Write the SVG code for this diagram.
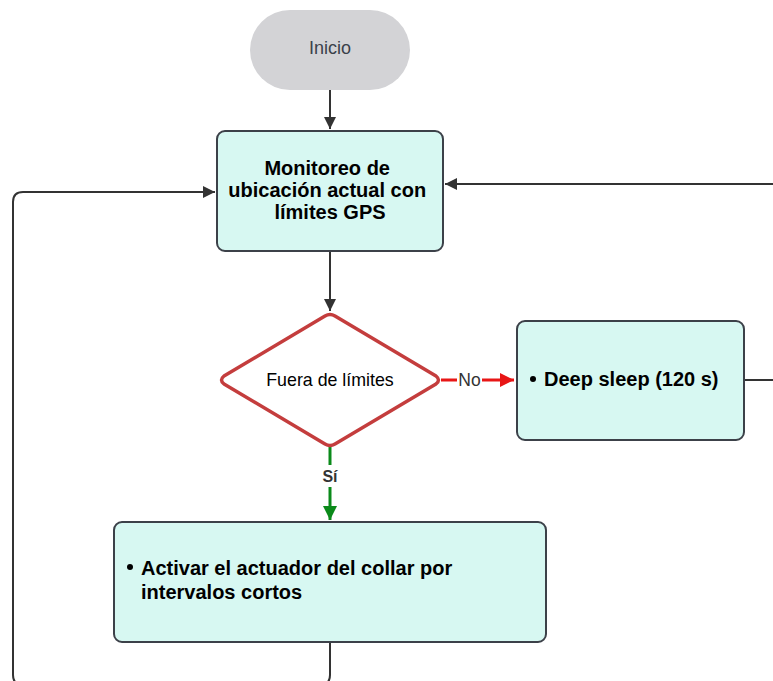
<svg xmlns="http://www.w3.org/2000/svg" width="773" height="681" viewBox="0 0 773 681">
  <defs>
    <marker id="arr" viewBox="0 0 10 10" refX="10" refY="5" markerWidth="12" markerHeight="12" markerUnits="userSpaceOnUse" orient="auto">
      <path d="M0,0 L10,5 L0,10 z" fill="#333333"/>
    </marker>
    <marker id="arrRed" viewBox="0 0 10 10" refX="10" refY="5" markerWidth="14" markerHeight="14" markerUnits="userSpaceOnUse" orient="auto">
      <path d="M0,0 L10,5 L0,10 z" fill="#e81616"/>
    </marker>
    <marker id="arrGreen" viewBox="0 0 10 10" refX="10" refY="5" markerWidth="14" markerHeight="14" markerUnits="userSpaceOnUse" orient="auto">
      <path d="M0,0 L10,5 L0,10 z" fill="#0b8a1a"/>
    </marker>
  </defs>
  <style>
    .box { fill: #d7f8f2; stroke: #3c4149; stroke-width: 2; }
    .t { font-family: "Liberation Sans", Arial, sans-serif; }
    .b { font-weight: bold; font-size: 20px; fill: #000000; }
    .conn { fill: none; stroke: #333333; stroke-width: 2; }
  </style>
  <rect width="773" height="681" fill="#ffffff"/>

  <g id="connectors">
    <path class="conn" d="M330,90 V129" marker-end="url(#arr)"/>
    <path class="conn" d="M330,252 V311" marker-end="url(#arr)"/>
    <path class="conn" d="M773,184 H445" marker-end="url(#arr)"/>
    <path class="conn" d="M745,380 H773"/>
    <path class="conn" d="M330,643 V675 Q330,685 320,685 H23 Q13,685 13,675 V202 Q13,192 23,192 H215" marker-end="url(#arr)"/>
    <path d="M441,380 H514" fill="none" stroke="#e81616" stroke-width="3" marker-end="url(#arrRed)"/>
    <path d="M330,447 V520" fill="none" stroke="#0b8a1a" stroke-width="3" marker-end="url(#arrGreen)"/>
    <rect x="457" y="370" width="25" height="20" fill="#ffffff"/>
    <text class="t" x="469.5" y="386" text-anchor="middle" font-size="17.5" fill="#333333">No</text>
    <rect x="318" y="465" width="24" height="22" fill="#ffffff"/>
    <text class="t" x="330" y="482" text-anchor="middle" font-size="16" font-weight="bold" fill="#333333">Sí</text>
  </g>

  <g id="inicio">
    <rect x="250" y="10" width="160" height="80" rx="40" fill="#d3d3d6"/>
    <text class="t" x="330" y="54" text-anchor="middle" font-size="18" fill="#3a414a">Inicio</text>
  </g>

  <g id="monitoreo">
    <rect class="box" x="217" y="131" width="226" height="120" rx="8"/>
    <text class="t b" text-anchor="middle">
      <tspan x="330" y="175">Monitoreo de</tspan>
      <tspan x="330" y="197">ubicación actual con</tspan>
      <tspan x="330" y="219">límites GPS</tspan>
    </text>
  </g>

  <g id="fuera-limites">
    <path d="M325,316 Q330,313 335,316 L436,376 Q441,380 436,384 L335,444 Q330,447 325,444 L224,384 Q219,380 224,376 Z" fill="#ffffff" stroke="#c43d3d" stroke-width="3.5" stroke-linejoin="round"/>
    <text class="t" x="330" y="386" text-anchor="middle" font-size="17.8" fill="#000000">Fuera de límites</text>
  </g>

  <g id="deep-sleep">
    <rect class="box" x="517" y="321" width="227" height="119" rx="8"/>
    <circle cx="533" cy="379" r="3" fill="#000000"/>
    <text class="t b" x="544" y="386">Deep sleep (120 s)</text>
  </g>

  <g id="activar">
    <rect class="box" x="114" y="522" width="432" height="120" rx="8"/>
    <circle cx="130" cy="567" r="3" fill="#000000"/>
    <text class="t b">
      <tspan x="141" y="575">Activar el actuador del collar por</tspan>
      <tspan x="141" y="599">intervalos cortos</tspan>
    </text>
  </g>
</svg>
